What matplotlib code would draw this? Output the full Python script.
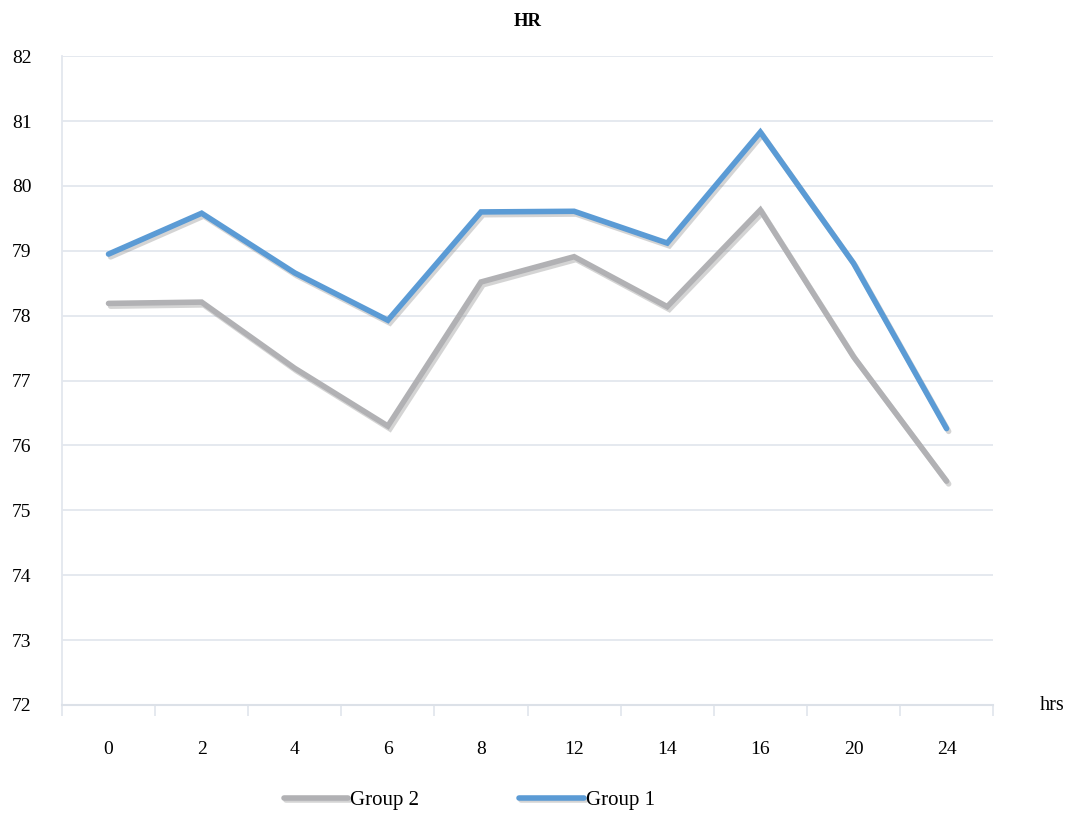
import numpy as np
import matplotlib
matplotlib.use("Agg")
import matplotlib.pyplot as plt
import matplotlib.patheffects as pe

plt.rcParams['font.family'] = ['Liberation Serif', 'DejaVu Serif']

# data
hours = ['0', '2', '4', '6', '8', '12', '14', '16', '20', '24']
group1 = [78.95, 79.58, 78.66, 77.93, 79.60, 79.61, 79.12, 80.83, 78.81, 76.26]
group2 = [78.19, 78.21, 77.19, 76.30, 78.52, 78.91, 78.14, 79.63, 77.37, 75.45]

blue = '#5B9BD5'
gray = '#B1B1B4'
gridc = '#E3E7EE'

fig = plt.figure(figsize=(10.74, 8.15), dpi=100)
ax = fig.add_axes([0.0577, 0.135, 0.867, 0.796])

x = np.arange(len(hours))
shadow = [pe.SimpleLineShadow(offset=(1.5, -2), shadow_color='0.45', alpha=0.3), pe.Normal()]
l2, = ax.plot(x, group2, color=gray, lw=4, solid_capstyle='round', solid_joinstyle='miter',
              path_effects=shadow, label='Group 2', zorder=3)
l1, = ax.plot(x, group1, color=blue, lw=4, solid_capstyle='round', solid_joinstyle='miter',
              path_effects=shadow, label='Group 1', zorder=4)

ax.set_xlim(-0.5, len(hours) - 0.5)
ax.set_ylim(72, 82)
ax.set_yticks(np.arange(72, 83, 1))
ax.yaxis.grid(True, color=gridc, lw=1.3)
ax.set_axisbelow(True)

ax.set_xticks(x)
ax.set_xticklabels(hours)
ax.set_xticks(np.arange(-0.5, len(hours)), minor=True)
ax.tick_params(axis='x', which='major', length=0, pad=26, labelsize=14)
ax.tick_params(axis='x', which='minor', length=8, color=gridc, width=1.3, direction='out')
ax.tick_params(axis='y', length=0, pad=22, labelsize=14)

for s in ['top', 'right']:
    ax.spines[s].set_visible(False)
ax.spines['left'].set_color(gridc)
ax.spines['left'].set_linewidth(1.3)
ax.spines['bottom'].set_color('#DCE1E8')
ax.spines['bottom'].set_linewidth(1.5)

ax.set_title('HR', fontsize=13.5, fontweight='bold', pad=22)
fig.text(0.98, 1 - 706 / 815, 'hrs', fontsize=14.5, ha='center', va='center')

fig.legend(handles=[l2, l1], loc='center', bbox_to_anchor=(0.437, 1 - 800 / 815), ncol=2,
           frameon=False, fontsize=15, handlelength=3.1, handletextpad=0.1,
           columnspacing=4.8)

fig.savefig('out.png', dpi=100)
